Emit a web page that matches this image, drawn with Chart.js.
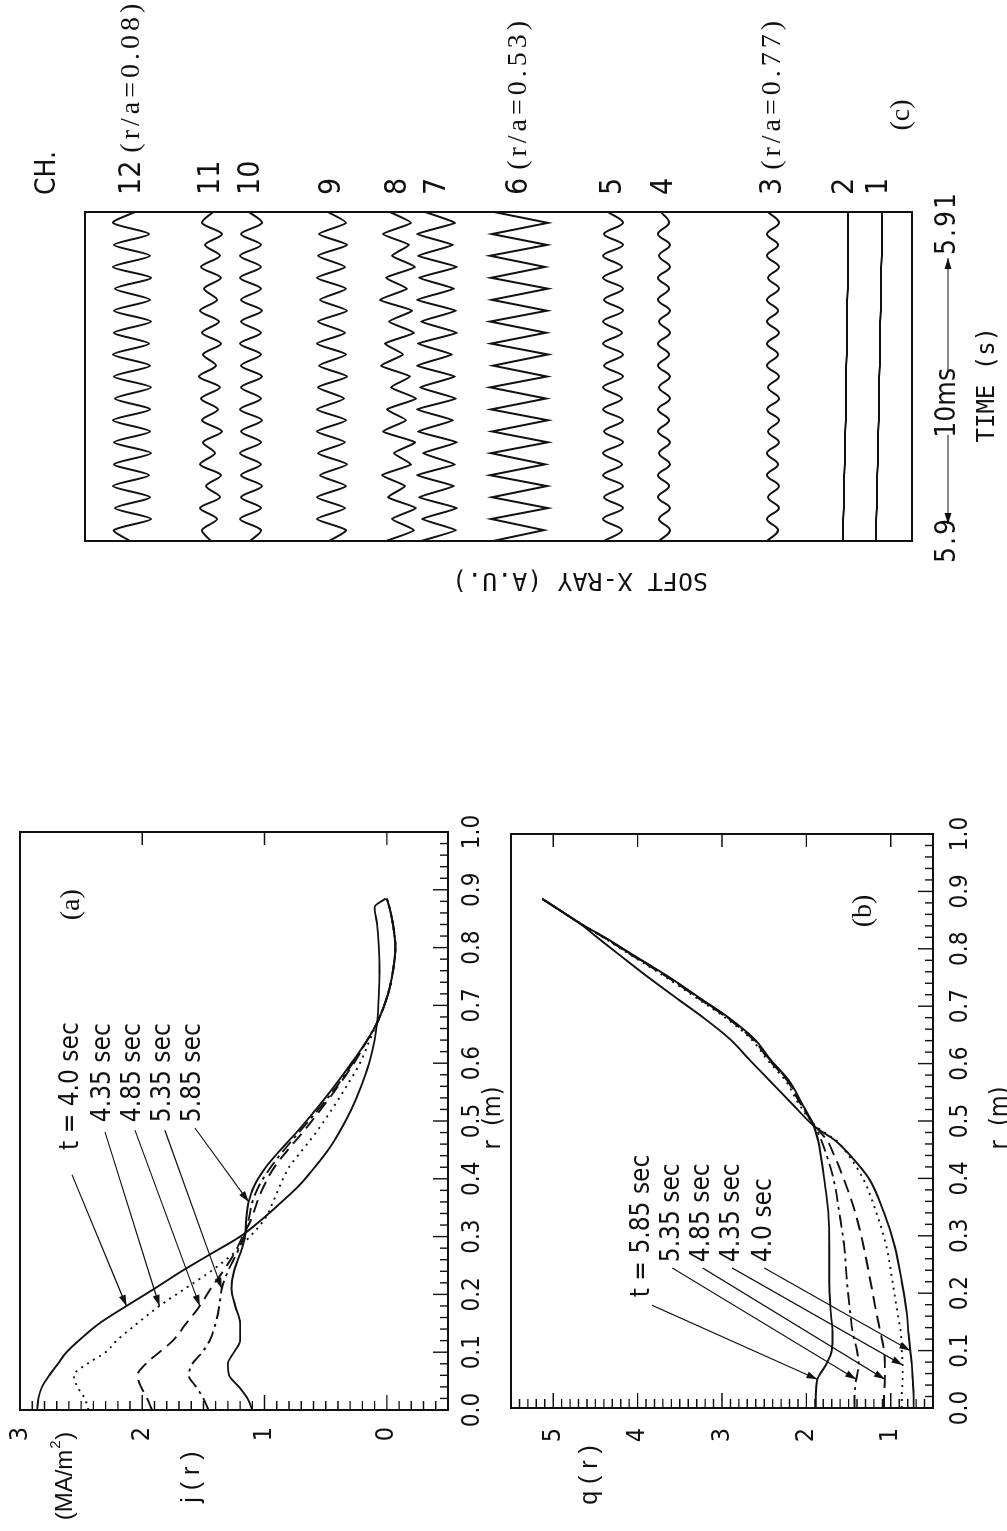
<!DOCTYPE html>
<html>
<head>
<meta charset="utf-8">
<title>Current density, safety factor and soft X-ray signals</title>
<script src="https://cdn.jsdelivr.net/npm/chart.js@4.4.1/dist/chart.umd.min.js"></script>
<style>
  html, body { margin: 0; padding: 0; background: #fff; width: 1007px; height: 1531px; overflow: hidden; }
  /* the figure is laid out as a landscape sheet and turned a quarter turn */
  #sheet { position: absolute; left: 0; top: 0; width: 1531px; height: 1007px;
           transform-origin: 0 0; transform: translate(0, 1531px) rotate(-90deg); background: #fff; }
  #sheet canvas { position: absolute; }
</style>
</head>
<body>
<div id="sheet">
  <canvas id="cj" width="760" height="545" style="left:0;top:-30px;width:760px;height:545px"></canvas>
  <canvas id="cq" width="760" height="547" style="left:0;top:460px;width:760px;height:547px"></canvas>
  <canvas id="cx" width="611" height="1007" style="left:920px;top:0;width:611px;height:1007px"></canvas>
</div>
<script>
// ---------------- data ----------------
const times = ['t = 4.0 sec', '4.35 sec', '4.85 sec', '5.35 sec', '5.85 sec'];

// (a) current density profiles j(r) [MA/m^2] versus minor radius r [m]
const rA = [0, 0.02, 0.04, 0.06, 0.08, 0.10, 0.12, 0.15, 0.18, 0.21, 0.24, 0.27, 0.30, 0.33, 0.36,
            0.39, 0.42, 0.45, 0.48, 0.52, 0.56, 0.60, 0.64, 0.67, 0.72, 0.76, 0.80, 0.84, 0.87, 0.885];
const j400 = [2.86, 2.85, 2.82, 2.76, 2.69, 2.62, 2.52, 2.35, 2.13, 1.90, 1.68, 1.44, 1.20, 1.02, 0.86,
              0.71, 0.59, 0.48, 0.39, 0.29, 0.21, 0.145, 0.10, 0.08, 0.065, 0.06, 0.065, 0.08, 0.10, 0.01];
const j435 = [2.44, 2.47, 2.53, 2.56, 2.45, 2.30, 2.21, 2.04, 1.86, 1.65, 1.44, 1.26, 1.12, 1.00, 0.93,
              0.87, 0.80, 0.69, 0.58, 0.45, 0.33, 0.22, 0.14, 0.08, -0.01, -0.05, -0.07, -0.05, -0.02, 0.0];
const j485 = [1.92, 1.96, 2.01, 2.04, 1.97, 1.86, 1.75, 1.64, 1.53, 1.44, 1.34, 1.25, 1.18, 1.11, 1.06,
              1.00, 0.92, 0.81, 0.69, 0.54, 0.40, 0.27, 0.16, 0.08, -0.01, -0.05, -0.07, -0.05, -0.02, 0.0];
const j535 = [1.46, 1.50, 1.56, 1.62, 1.59, 1.51, 1.45, 1.40, 1.37, 1.35, 1.30, 1.23, 1.17, 1.13, 1.10,
              1.04, 0.95, 0.84, 0.72, 0.56, 0.41, 0.28, 0.16, 0.08, -0.01, -0.05, -0.07, -0.05, -0.02, 0.0];
const j585 = [1.10, 1.14, 1.21, 1.29, 1.30, 1.25, 1.20, 1.20, 1.24, 1.27, 1.25, 1.20, 1.16, 1.15, 1.13,
              1.08, 0.99, 0.87, 0.74, 0.58, 0.43, 0.29, 0.16, 0.08, -0.01, -0.05, -0.07, -0.05, -0.02, 0.0];

// (b) safety factor profiles q(r)
const rB = [0, 0.02, 0.05, 0.075, 0.10, 0.13, 0.165, 0.22, 0.28, 0.34, 0.40, 0.44, 0.465,
            0.49, 0.53, 0.571, 0.606, 0.642, 0.68, 0.712, 0.75, 0.79, 0.82, 0.845, 0.867, 0.887];
const q400 = [0.73, 0.73, 0.74, 0.75, 0.77, 0.79, 0.81, 0.87, 0.95, 1.08, 1.26, 1.48, 1.65,
              1.90, 2.17, 2.44, 2.67, 2.90, 3.22, 3.52, 3.87, 4.22, 4.48, 4.69, 4.92, 5.13];
const q435 = [0.87, 0.87, 0.86, 0.86, 0.87, 0.88, 0.92, 0.98, 1.05, 1.17, 1.33, 1.50, 1.64,
              1.88, 2.09, 2.25, 2.46, 2.65, 2.96, 3.28, 3.66, 4.09, 4.41, 4.69, 4.92, 5.13];
const q485 = [1.08, 1.08, 1.07, 1.07, 1.08, 1.12, 1.17, 1.24, 1.32, 1.42, 1.56, 1.67, 1.75,
              1.89, 2.07, 2.23, 2.44, 2.63, 2.94, 3.26, 3.64, 4.08, 4.40, 4.69, 4.92, 5.13];
const q535 = [1.43, 1.43, 1.41, 1.38, 1.40, 1.45, 1.48, 1.52, 1.55, 1.61, 1.68, 1.76, 1.82,
              1.90, 2.06, 2.22, 2.43, 2.62, 2.93, 3.25, 3.63, 4.07, 4.40, 4.69, 4.92, 5.13];
const q585 = [1.89, 1.89, 1.87, 1.77, 1.70, 1.69, 1.71, 1.73, 1.73, 1.74, 1.79, 1.83, 1.86,
              1.91, 2.05, 2.21, 2.42, 2.61, 2.92, 3.24, 3.62, 4.06, 4.39, 4.69, 4.92, 5.13];

// axis ticks
const rTicks = [0, 0.1, 0.2, 0.3, 0.4, 0.5, 0.6, 0.7, 0.8, 0.9, 1.0];
const rTickLabels = ['0.0', '0.1', '0.2', '0.3', '0.4', '0.5', '0.6', '0.7', '0.8', '0.9', '1.0'];
const jTicks = [0, 1, 2, 3];
const jTickLabels = ['0', '1', '2', '3'];
const qTicks = [1, 2, 3, 4, 5];
const qTickLabels = ['1', '2', '3', '4', '5'];

// (c) soft X-ray channels, 5.90 s to 5.91 s (time in ms after 5.90 s)
const channels = ['12', '11', '10', '9', '8', '7', '6', '5', '4', '3', '2', '1'];
const channelNotes = ['(r/a=0.08)', '', '', '', '', '', '(r/a=0.53)', '', '', '(r/a=0.77)', '', ''];
const chOffset = [78.0, 70.1, 66.1, 58.0, 51.4, 47.5, 39.3, 29.9, 24.8, 13.9, 6.7, 3.3];
const tMs = [0, 0.33, 0.67, 1, 1.33, 1.67, 2, 2.33, 2.67, 3, 3.33, 3.67, 4, 4.33, 4.67, 5,
             5.33, 5.67, 6, 6.33, 6.67, 7, 7.33, 7.67, 8, 8.33, 8.67, 9, 9.33, 9.67, 10];
const sx12 = [0.2, 1.8, -1.9, 1.7, -1.8, 1.9, -1.7, 1.8, -1.9, 1.8, -1.8, 1.9, -1.8, 1.7, -1.9, 1.8,
              -1.8, 1.9, -1.7, 1.8, -1.9, 1.8, -1.8, 1.7, -1.9, 1.9, -1.8, 1.8, -1.7, 1.9, -0.3];
const sx11 = [0.0, 0.9, -0.6, 1.1, -0.9, 0.5, -1.0, 1.1, -0.4, 0.8, -1.1, 0.9, -0.7, 1.0, -0.9, 1.2,
              -0.5, 0.8, -1.0, 0.9, -0.8, 1.1, -0.6, 0.7, -1.0, 1.0, -0.9, 0.6, -1.1, 0.9, -0.2];
const sx10 = [0.1, -1.0, 1.1, -1.0, 1.0, -1.1, 1.0, -1.0, 1.1, -1.0, 1.0, -1.1, 1.1, -1.0, 1.0, -1.1,
              1.0, -1.0, 1.1, -1.0, 1.0, -1.1, 1.0, -1.0, 1.1, -1.0, 1.1, -1.0, 1.0, -1.1, 0.2];
const sx9 = [0.3, -1.4, 1.5, -1.3, 1.5, -1.4, 1.2, -1.5, 1.4, -1.3, 1.5, -1.4, 1.5, -1.2, 1.4, -1.5,
             1.3, -1.4, 1.5, -1.3, 1.4, -1.5, 1.2, -1.4, 1.5, -1.3, 1.4, -1.5, 1.3, -1.4, 0.4];
const sx8 = [1.2, -1.6, 0.6, -1.8, 1.0, -0.7, 1.6, -1.3, 0.4, -1.7, 1.5, -0.8, 1.1, -1.8, 0.7, -1.2,
             1.7, -0.5, 1.3, -1.6, 0.9, -1.4, 1.8, -0.9, 1.2, -1.7, 0.6, -1.1, 1.5, -1.3, 0.8];
const sx7 = [1.6, -1.9, 1.5, -2.0, 1.8, -1.7, 2.0, -1.8, 1.4, -2.0, 1.9, -1.6, 2.0, -1.9, 1.7, -1.8,
             2.0, -1.5, 1.9, -2.0, 1.6, -1.9, 2.0, -1.7, 1.8, -2.0, 1.9, -1.6, 2.0, -1.8, 1.2];
const sx6 = [2.6, -2.5, 2.8, -2.9, 2.7, -2.8, 2.9, -2.6, 2.8, -2.9, 2.7, -2.9, 2.8, -2.7, 2.9, -2.8,
             2.6, -2.9, 2.8, -2.7, 2.9, -2.8, 2.7, -2.9, 2.8, -2.6, 2.9, -2.8, 2.7, -2.9, 2.5];
const sx5 = [0.9, -0.9, 1.0, -1.0, 0.9, -1.0, 1.0, -0.9, 1.0, -1.0, 0.9, -1.0, 1.0, -0.9, 1.0, -1.0,
             0.9, -1.0, 1.0, -0.9, 1.0, -1.0, 0.9, -1.0, 1.0, -0.9, 1.0, -1.0, 0.9, -1.0, 0.5];
const sx4 = [0.5, -0.6, 0.5, -0.6, 0.6, -0.5, 0.6, -0.6, 0.5, -0.6, 0.6, -0.5, 0.6, -0.6, 0.5, -0.6,
             0.6, -0.5, 0.6, -0.6, 0.5, -0.6, 0.6, -0.5, 0.6, -0.6, 0.5, -0.6, 0.6, -0.5, 0.3];
const sx3 = [0.6, -0.5, 0.6, -0.6, 0.5, -0.6, 0.6, -0.5, 0.6, -0.6, 0.5, -0.6, 0.6, -0.6, 0.5, -0.6,
             0.6, -0.5, 0.6, -0.6, 0.6, -0.5, 0.6, -0.6, 0.5, -0.6, 0.6, -0.5, 0.6, -0.6, 0.5];
const sx2 = [0.2, 0.2, 0.2, 0.1, 0.1, 0.1, 0.1, 0.0, 0.0, 0.0, 0.0, -0.1, -0.1, -0.1, -0.1, -0.1,
             -0.1, -0.2, -0.2, -0.2, -0.2, -0.2, -0.2, -0.3, -0.3, -0.3, -0.3, -0.3, -0.3, -0.3, -0.3];
const sx1 = [0.3, 0.3, 0.3, 0.2, 0.2, 0.2, 0.2, 0.1, 0.1, 0.1, 0.1, 0.0, 0.0, 0.0, 0.0, 0.0,
             -0.1, -0.1, -0.1, -0.1, -0.1, -0.2, -0.2, -0.2, -0.2, -0.2, -0.3, -0.3, -0.3, -0.3, -0.3];

// ---------------- drawing ----------------
const INK = '#111';
const FONT_NARROW = '"Liberation Sans Narrow", "DejaVu Sans Condensed", "Liberation Sans", Arial, sans-serif';
const FONT_SANS = '"Liberation Sans", Arial, sans-serif';
const FONT_SERIF = '"Liberation Serif", "DejaVu Serif", serif';
const FONT_PLOT = '"DejaVu Sans Mono", "Liberation Mono", monospace';

Chart.defaults.color = INK;
Chart.defaults.font.family = FONT_NARROW;

// solid, dotted, dashed, dash-dot, solid
const lineDash = [[], [2, 5], [13, 7], [13, 5, 3, 5], []];

function pts(xs, ys) { return xs.map((x, i) => ({ x: x, y: ys[i] })); }

function drawArrow(ctx, x1, y1, x2, y2) {
  ctx.beginPath(); ctx.moveTo(x1, y1); ctx.lineTo(x2, y2); ctx.stroke();
  const a = Math.atan2(y2 - y1, x2 - x1), L = 11, W = 3.5;
  const bx = x2 - L * Math.cos(a), by = y2 - L * Math.sin(a);
  ctx.beginPath();
  ctx.moveTo(x2, y2);
  ctx.lineTo(bx + W * Math.sin(a), by - W * Math.cos(a));
  ctx.lineTo(bx - W * Math.sin(a), by + W * Math.cos(a));
  ctx.closePath(); ctx.fill();
}

// boxed frame with inward ticks, label notes, arrows and axis titles
const profileDecor = {
  id: 'profileDecor',
  afterDatasetsDraw(chart, args, o) {
    const { ctx, chartArea: a, scales: { x, y } } = chart;
    ctx.save();
    ctx.strokeStyle = INK; ctx.fillStyle = INK;
    ctx.lineWidth = 2;
    ctx.strokeRect(a.left, a.top, a.right - a.left, a.bottom - a.top);
    ctx.lineWidth = 1.4;
    ctx.beginPath();
    // r ticks on the lower edge
    for (let k = 0; ; k++) {
      const v = x.min + k * 0.02;
      if (v > x.max + 1e-9) break;
      const major = Math.abs(v * 10 - Math.round(v * 10)) < 1e-6;
      const px = x.getPixelForValue(v);
      ctx.moveTo(px, a.bottom); ctx.lineTo(px, a.bottom - (major ? 15 : 8));
    }
    // ordinate ticks on the left edge, majors repeated on the right edge
    for (let k = 0; ; k++) {
      const v = y.min + k * 0.1;
      if (v > y.max + 1e-9) break;
      const major = Math.abs(v - Math.round(v)) < 1e-6;
      const py = y.getPixelForValue(v);
      ctx.moveTo(a.left, py); ctx.lineTo(a.left + (major ? 15 : 9), py);
      if (major) { ctx.moveTo(a.right, py); ctx.lineTo(a.right - 13, py); }
    }
    ctx.stroke();

    // arrows from each note to its curve
    ctx.lineWidth = 1.2;
    o.arrows.forEach(ar => {
      const p = chart.data.datasets[ar.series].data[ar.idx];
      drawArrow(ctx, x.getPixelForValue(ar.x), y.getPixelForValue(ar.y),
                x.getPixelForValue(p.x), y.getPixelForValue(p.y));
    });

    // time notes
    ctx.font = '26px ' + FONT_NARROW;
    ctx.textAlign = 'left'; ctx.textBaseline = 'middle';
    o.notes.forEach(n => ctx.fillText(n.s, x.getPixelForValue(n.x), y.getPixelForValue(n.y)));

    // panel tag
    ctx.font = '28px ' + FONT_SERIF;
    ctx.textAlign = 'center';
    ctx.fillText(o.tag.s, x.getPixelForValue(o.tag.x), y.getPixelForValue(o.tag.y));

    // axis titles
    ctx.font = '25px ' + FONT_NARROW;
    ctx.fillText('r  (m)', (a.left + a.right) / 2 + 3, a.bottom + o.rTitleGap);
    o.yTitles.forEach(t => {
      ctx.font = t.font;
      ctx.textAlign = 'left';
      const w = ctx.measureText(t.s).width + (t.sup ? 10 : 0) + (t.tail ? ctx.measureText(t.tail).width : 0);
      let cx = t.x - w / 2;
      const cy = a.top + t.dy;
      ctx.fillText(t.s, cx, cy);
      cx += ctx.measureText(t.s).width;
      if (t.sup) {
        ctx.save(); ctx.font = '15px ' + FONT_SANS; ctx.fillText(t.sup, cx + 1, cy - 9); ctx.restore();
        cx += 10;
      }
      if (t.tail) ctx.fillText(t.tail, cx, cy);
    });
    ctx.restore();
  }
};

function profileChart(id, xs, series, yMin, yMax, yTicks, yLabels, geom, decor) {
  return new Chart(document.getElementById(id), {
    type: 'line',
    data: {
      datasets: series.map((ys, i) => ({
        label: times[i],
        data: pts(xs, ys),
        borderColor: INK,
        borderWidth: 1.9,
        borderDash: lineDash[i],
        pointRadius: 0,
        cubicInterpolationMode: 'monotone',
        fill: false
      }))
    },
    options: {
      responsive: false, animation: false, devicePixelRatio: 1,
      events: [],
      layout: { padding: { left: 0, right: geom.right, top: geom.top, bottom: 0 } },
      plugins: { legend: { display: false }, tooltip: { enabled: false }, profileDecor: decor },
      scales: {
        x: {
          type: 'linear', position: 'bottom', min: 0, max: 1,
          afterBuildTicks: s => { s.ticks = rTicks.map(v => ({ value: v })); },
          afterFit: s => { s.height = geom.xAxisH; },
          grid: { display: false }, border: { display: false },
          ticks: { color: INK, font: { family: FONT_NARROW, size: 24 }, padding: geom.xPad,
                   maxRotation: 0, autoSkip: false, callback: (v, i) => rTickLabels[i] }
        },
        y: {
          type: 'linear', position: 'left', min: yMin, max: yMax,
          afterBuildTicks: s => { s.ticks = yTicks.map(v => ({ value: v })); },
          afterFit: s => { s.width = geom.yAxisW; },
          grid: { display: false }, border: { display: false },
          ticks: { color: INK, font: { family: FONT_NARROW, size: 25 }, padding: geom.yPad,
                   autoSkip: false, callback: (v, i) => yLabels[i] }
        }
      }
    },
    plugins: [profileDecor]
  });
}

// (a) j(r)
profileChart('cj', rA, [j400, j435, j485, j535, j585], -0.5, 3, jTicks, jTickLabels,
  { right: 61, top: 50, xAxisH: 67, yAxisW: 121, xPad: 2, yPad: 9 },
  {
    notes: [
      { s: times[0], x: 0.450, y: 2.583 },
      { s: times[1], x: 0.498, y: 2.321 },
      { s: times[2], x: 0.498, y: 2.076 },
      { s: times[3], x: 0.498, y: 1.831 },
      { s: times[4], x: 0.498, y: 1.585 }
    ],
    arrows: [
      { x: 0.407, y: 2.575, series: 0, idx: 8 },
      { x: 0.481, y: 2.305, series: 1, idx: 8 },
      { x: 0.484, y: 2.060, series: 2, idx: 8 },
      { x: 0.484, y: 1.815, series: 3, idx: 9 },
      { x: 0.488, y: 1.570, series: 4, idx: 14 }
    ],
    tag: { s: '(a)', x: 0.874, y: 2.575 },
    rTitleGap: 45,
    yTitles: [
      { s: '(MA/m', sup: '2', tail: ')', x: 55, dy: 45, font: '24px ' + FONT_SANS },
      { s: 'j ( r )', x: 54, dy: 172, font: '25px ' + FONT_SANS }
    ]
  });

// (b) q(r)
profileChart('cq', rB, [q400, q435, q485, q535, q585], 0.5, 5.5, qTicks, qTickLabels,
  { right: 63, top: 51, xAxisH: 74, yAxisW: 123, xPad: 5, yPad: 12 },
  {
    notes: [
      { s: 't = 5.85 sec', x: 0.193, y: 3.94 },
      { s: '5.35 sec', x: 0.254, y: 3.59 },
      { s: '4.85 sec', x: 0.254, y: 3.23 },
      { s: '4.35 sec', x: 0.254, y: 2.88 },
      { s: '4.0 sec', x: 0.254, y: 2.50 }
    ],
    arrows: [
      { x: 0.179, y: 3.83, series: 4, idx: 2 },
      { x: 0.244, y: 3.59, series: 3, idx: 2 },
      { x: 0.244, y: 3.23, series: 2, idx: 2 },
      { x: 0.244, y: 2.88, series: 1, idx: 3 },
      { x: 0.244, y: 2.50, series: 0, idx: 4 }
    ],
    tag: { s: '(b)', x: 0.866, y: 1.32 },
    rTitleGap: 67,
    yTitles: [
      { s: 'q ( r )', x: 56, dy: 79, font: '25px ' + FONT_SANS }
    ]
  });

// (c) soft X-ray traces
const sxTraces = [sx12, sx11, sx10, sx9, sx8, sx7, sx6, sx5, sx4, sx3, sx2, sx1];
const traceTension = [0.25, 0.3, 0.3, 0.2, 0.15, 0.1, 0, 0.35, 0.4, 0.4, 0.4, 0.4];

const sxrDecor = {
  id: 'sxrDecor',
  afterDatasetsDraw(chart) {
    const { ctx, chartArea: a, scales: { x, y } } = chart;
    ctx.save();
    ctx.strokeStyle = INK; ctx.fillStyle = INK;
    ctx.lineWidth = 2;
    ctx.strokeRect(a.left, a.top, a.right - a.left, a.bottom - a.top);

    // channel numbers beside each trace
    ctx.textBaseline = 'middle'; ctx.textAlign = 'left';
    channels.forEach((c, k) => {
      const py = y.getPixelForValue(chOffset[k]);
      const px = a.right + 17;
      ctx.font = '30px ' + FONT_NARROW;
      ctx.fillText(c, px, py);
      if (channelNotes[k]) {
        const w = ctx.measureText(c).width;
        ctx.save();
        ctx.font = '28px ' + FONT_SERIF;
        ctx.letterSpacing = '4px';
        ctx.fillText(channelNotes[k], px + w + 8, py);
        ctx.restore();
      }
    });
    ctx.font = '28px ' + FONT_NARROW;
    ctx.fillText('CH.', a.right + 17, 48);

    ctx.font = '28px ' + FONT_SERIF;
    ctx.textAlign = 'center';
    ctx.fillText('(c)', a.right + 97, y.getPixelForValue(0) - 10);

    // time span marker under the box
    const ty = a.bottom + 36;
    const x0 = x.getPixelForValue(0), x1 = x.getPixelForValue(10), xm = x.getPixelForValue(4.2);
    ctx.font = '28px ' + FONT_NARROW;
    ctx.save(); ctx.letterSpacing = '2px';
    ctx.fillText('5.9', x0 + 1, ty);
    ctx.fillText('5.91', x1 - 11, ty);
    ctx.restore();
    ctx.fillText('10ms', xm, ty);
    ctx.lineWidth = 1.2;
    drawArrow(ctx, xm - 32, ty, x0 + 17, ty);
    drawArrow(ctx, xm + 32, ty, x1 - 46, ty);

    ctx.font = '24px ' + FONT_PLOT;
    ctx.fillText('TIME (s)', x.getPixelForValue(4.75), a.bottom + 76);

    // vertical title
    ctx.save();
    ctx.translate(a.left - 39, y.getPixelForValue(33.2));
    ctx.rotate(-Math.PI / 2);
    ctx.font = '25px ' + FONT_PLOT;
    ctx.fillText('SOFT X-RAY (A.U.)', 0, 0);
    ctx.restore();
    ctx.restore();
  }
};

new Chart(document.getElementById('cx'), {
  type: 'line',
  data: {
    datasets: sxTraces.map((dev, k) => ({
      label: 'CH. ' + channels[k],
      data: tMs.map((t, i) => ({ x: t, y: chOffset[k] + dev[i] })),
      borderColor: INK,
      borderWidth: 2,
      pointRadius: 0,
      tension: traceTension[k],
      fill: false
    }))
  },
  options: {
    responsive: false, animation: false, devicePixelRatio: 1,
    events: [],
    layout: { padding: { left: 70, right: 212, top: 85, bottom: 95 } },
    plugins: { legend: { display: false }, tooltip: { enabled: false } },
    scales: {
      x: { type: 'linear', min: 0, max: 10, display: false },
      y: { type: 'linear', min: 0, max: 82.7, display: false }
    }
  },
  plugins: [sxrDecor]
});
</script>
</body>
</html>
